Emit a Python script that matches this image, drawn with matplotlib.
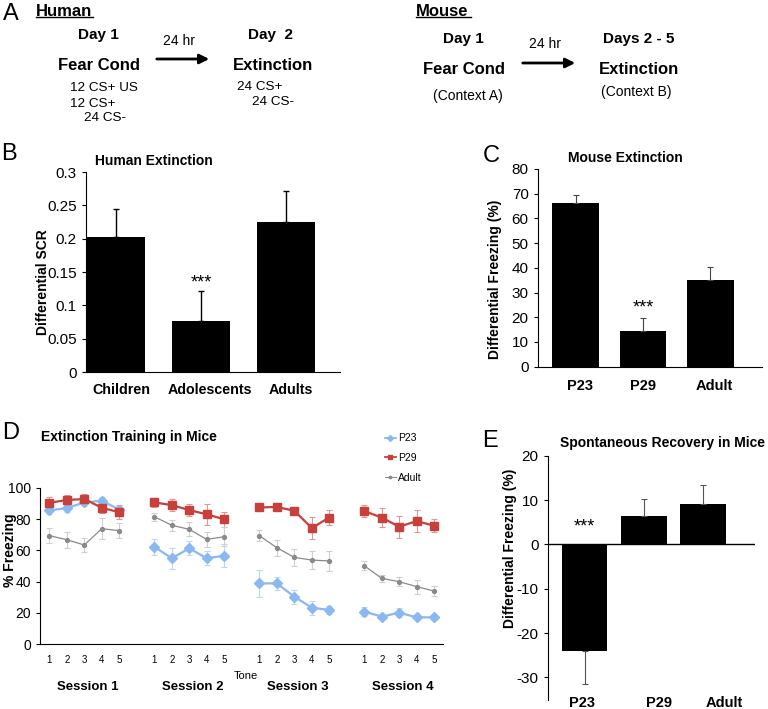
import matplotlib
matplotlib.use("Agg")
import matplotlib.pyplot as plt
import numpy as np
from matplotlib.ticker import FuncFormatter

plt.rcParams['font.family'] = ['Liberation Sans', 'DejaVu Sans']
plt.rcParams['axes.unicode_minus'] = False

# ---- data ----
human_groups = ["Children", "Adolescents", "Adults"]
human_scr = [0.202, 0.077, 0.225]
human_err = [0.043, 0.044, 0.046]

mouse_groups = ["P23", "P29", "Adult"]
mouse_ext = [66.4, 14.4, 35.0]
mouse_ext_err = [3.0, 5.2, 5.2]

tones = ["1", "2", "3", "4", "5"]
sessions = ["Session 1", "Session 2", "Session 3", "Session 4"]

p23_freeze = [85.5, 87.0, 90.6, 91.7, 86.0,
              62.3, 54.9, 61.3, 54.9, 56.6,
              38.9, 38.9, 30.4, 23.4, 21.9,
              20.9, 17.7, 20.2, 17.2, 17.2]
p23_err = [2.5, 2.5, 2.5, 2.5, 2.5,
           5.0, 6.5, 4.5, 4.5, 7.5,
           8.5, 4.0, 4.5, 4.5, 2.5,
           3.0, 1.5, 3.0, 1.5, 1.5]
p29_freeze = [90.4, 92.1, 92.8, 87.2, 84.3,
              90.6, 88.9, 85.7, 83.0, 79.8,
              87.4, 87.7, 85.3, 74.3, 80.9,
              85.1, 80.9, 75.1, 78.7, 75.7]
p29_err = [3.8, 3.0, 3.0, 3.5, 4.5,
           3.0, 4.0, 4.0, 6.5, 5.0,
           2.0, 2.0, 2.0, 7.0, 5.0,
           4.0, 6.0, 7.0, 7.0, 4.0]
adult_freeze = [69.4, 66.8, 63.4, 73.8, 72.6,
                81.5, 76.0, 73.4, 67.0, 68.7,
                69.4, 61.7, 55.5, 53.8, 53.2,
                50.2, 42.1, 40.0, 36.8, 34.0]
adult_err = [5.0, 5.0, 4.5, 6.7, 5.0,
             2.5, 3.5, 4.5, 5.0, 6.0,
             3.5, 5.0, 5.5, 5.5, 6.5,
             3.0, 2.0, 3.0, 4.5, 3.0]

recovery = [-24.0, 6.4, 9.1]
recovery_err = [7.6, 3.8, 4.2]

W, H = 768, 709
fig = plt.figure(figsize=(W / 100, H / 100), dpi=100)


def box(left, top, right, bottom):
    return [left / W, 1 - bottom / H, (right - left) / W, (bottom - top) / H]


def txt(x, y, s, **kw):
    kw.setdefault('ha', 'center')
    kw.setdefault('va', 'center')
    return fig.text(x / W, 1 - y / H, s, **kw)


def style_axes(ax):
    ax.spines['top'].set_visible(False)
    ax.spines['right'].set_visible(False)
    ax.tick_params(axis='y', direction='out', length=3, width=0.8, labelsize=11)
    ax.tick_params(axis='x', length=0)


# ---- panel A ----
txt(11, 14, "A", fontsize=17)
txt(36, 12, "Human", fontsize=12, weight='bold', ha='left')
fig.add_artist(plt.Line2D([36 / W, 93 / W], [1 - 17 / H, 1 - 17 / H], color='black', lw=1))
txt(98, 35, "Day 1", fontsize=11, weight='bold')
txt(99, 65.5, "Fear Cond", fontsize=12, weight='bold')
txt(70, 88, "12 CS+ US", fontsize=9.7, ha='left')
txt(70, 104, "12 CS+", fontsize=9.7, ha='left')
txt(84, 118, "24 CS-", fontsize=9.7, ha='left')
txt(179, 41, "24 hr", fontsize=10)
fig.add_artist(matplotlib.patches.FancyArrowPatch((154 / W, 1 - 59 / H), (212 / W, 1 - 59 / H),
                                                  transform=fig.transFigure, arrowstyle='-|>',
                                                  mutation_scale=14, lw=2, color='black'))
txt(271, 35, "Day  2", fontsize=11, weight='bold')
txt(273, 65.5, "Extinction", fontsize=12, weight='bold')
txt(237, 87, "24 CS+", fontsize=9.7, ha='left')
txt(252, 102, "24 CS-", fontsize=9.7, ha='left')

txt(416, 12, "Mouse", fontsize=12, weight='bold', ha='left')
fig.add_artist(plt.Line2D([416 / W, 471 / W], [1 - 17 / H, 1 - 17 / H], color='black', lw=1))
txt(463, 39, "Day 1", fontsize=11, weight='bold')
txt(464, 70, "Fear Cond", fontsize=12, weight='bold')
txt(468, 96, "(Context A)", fontsize=10)
txt(545, 44, "24 hr", fontsize=10)
fig.add_artist(matplotlib.patches.FancyArrowPatch((520 / W, 1 - 63 / H), (578 / W, 1 - 63 / H),
                                                  transform=fig.transFigure, arrowstyle='-|>',
                                                  mutation_scale=14, lw=2, color='black'))
txt(639, 39, "Days 2 - 5", fontsize=11, weight='bold')
txt(639, 70, "Extinction", fontsize=12, weight='bold')
txt(636, 92, "(Context B)", fontsize=10)

# ---- panel B ----
axB = fig.add_axes(box(86, 172, 340, 372))
style_axes(axB)
xb = np.arange(len(human_groups))
axB.bar(xb, human_scr, width=0.68, color='black')
axB.errorbar(xb, human_scr, yerr=[np.zeros(3), human_err], fmt='none',
             ecolor='black', elinewidth=1, capsize=2.5, capthick=1)
axB.set_xlim(-0.35, 2.63)
axB.set_ylim(0, 0.3)
axB.set_yticks([0, 0.05, 0.1, 0.15, 0.2, 0.25, 0.3])
axB.yaxis.set_major_formatter(FuncFormatter(lambda v, p: "%g" % v))
axB.set_xticks(xb + np.array([0.07, 0.1, 0.05]))
axB.set_xticklabels(human_groups, fontsize=10.3, weight='bold')
axB.tick_params(axis='x', pad=8)
axB.set_ylabel("Differential SCR", fontsize=10, weight='bold')
axB.yaxis.set_label_coords(-0.142, 0.45)
axB.text(1, human_scr[1] + human_err[1] + 0.012, "***", ha='center', va='center', fontsize=13)
txt(9, 154, "B", fontsize=17)
txt(154, 161, "Human Extinction", fontsize=10, weight='bold')

# ---- panel C ----
axC = fig.add_axes(box(537.7, 169, 761.7, 366.7))
style_axes(axC)
xc = np.arange(len(mouse_groups))
axC.bar(xc, mouse_ext, width=0.7, color='black')
axC.errorbar(xc, mouse_ext, yerr=[np.zeros(3), mouse_ext_err], fmt='none',
             ecolor='#444444', elinewidth=0.8, capsize=2.5, capthick=0.8)
axC.set_xlim(-0.57, 2.77)
axC.set_ylim(0, 80)
axC.set_yticks(range(0, 81, 10))
axC.set_xticks(xc + np.array([0.06, 0.0, 0.06]))
axC.set_xticklabels(mouse_groups, fontsize=10.5, weight='bold')
axC.tick_params(axis='x', pad=9)
axC.set_ylabel("Differential Freezing (%)", fontsize=10, weight='bold')
axC.yaxis.set_label_coords(-0.16, 0.44)
axC.text(1, mouse_ext[1] + mouse_ext_err[1] + 4, "***", ha='center', va='center', fontsize=13)
txt(491, 156, "C", fontsize=17)
txt(625, 158, "Mouse Extinction", fontsize=10, weight='bold')

# ---- panel D ----
axD = fig.add_axes(box(40, 487.7, 443, 644.3))
style_axes(axD)
xd = np.array([s * 6 + t for s in range(len(sessions)) for t in range(len(tones))], dtype=float)
series = [
    ("P23", p23_freeze, p23_err, '#8ab8f0', '#bcd5f5', 'D', 5, 1.6),
    ("P29", p29_freeze, p29_err, '#c8403c', '#e09896', 's', 6, 1.6),
    ("Adult", adult_freeze, adult_err, '#8a8a8a', '#cfcfcf', 'o', 2.8, 0.9),
]
handles = []
for name, vals, errs, col, ecol, mk, ms, lw in series:
    vals = np.array(vals)
    errs = np.array(errs)
    for s in range(len(sessions)):
        sl = slice(s * 5, s * 5 + 5)
        axD.errorbar(xd[sl], vals[sl], yerr=errs[sl], fmt='none', ecolor=ecol,
                     elinewidth=0.8, capsize=2, capthick=0.8, zorder=1)
        axD.plot(xd[sl], vals[sl], color=col, marker=mk, markersize=ms, lw=lw, zorder=2)
    handles.append(axD.plot([], [], color=col, marker=mk, markersize=ms * 0.6, lw=lw * 0.8)[0])
axD.set_xlim(-0.53, 22.5)
axD.set_ylim(0, 100)
axD.set_yticks(range(0, 101, 20))
axD.tick_params(axis='y', labelsize=10)
axD.set_xticks(xd)
axD.set_xticklabels(tones * len(sessions), fontsize=7)
axD.tick_params(axis='x', pad=8)
for s, name in enumerate(sessions):
    axD.text(s * 6 + 2.2, -0.27, name, transform=axD.get_xaxis_transform(),
             ha='center', va='center', fontsize=9.5, weight='bold')
axD.set_ylabel("% Freezing", fontsize=10, weight='bold')
axD.yaxis.set_label_coords(-0.058, 0.6)
txt(246, 676, "Tone", fontsize=8)
fig.legend(handles, [s[0] for s in series], loc='upper left',
           bbox_to_anchor=(381 / W, 1 - 429 / H), frameon=False, fontsize=7.5,
           handlelength=1.0, handletextpad=0.2, labelspacing=0.95, borderaxespad=0)
txt(11, 433, "D", fontsize=17)
txt(129, 437, "Extinction Training in Mice", fontsize=10, weight='bold')

# ---- panel E ----
axE = fig.add_axes(box(547.7, 455.7, 755, 700))
style_axes(axE)
axE.spines['bottom'].set_visible(False)
xe = np.arange(len(mouse_groups))
rec = np.array(recovery)
rec_err = np.array(recovery_err)
lower = np.where(rec < 0, rec_err, 0)
upper = np.where(rec > 0, rec_err, 0)
axE.bar(xe, rec, width=0.77, color='black')
axE.errorbar(xe, rec, yerr=[lower, upper], fmt='none',
             ecolor='#555555', elinewidth=0.8, capsize=2.5, capthick=0.8)
axE.axhline(0, color='black', lw=1)
axE.set_xlim(-0.62, 2.87)
axE.set_ylim(-35.1, 20)
axE.set_yticks([-30, -20, -10, 0, 10, 20])
axE.set_xticks(xe + np.array([-0.05, 0.26, 0.36]))
axE.set_xticklabels(mouse_groups, fontsize=10.5, weight='bold')
axE.tick_params(axis='x', pad=-3)
axE.set_ylabel("Differential Freezing (%)", fontsize=10, weight='bold')
axE.yaxis.set_label_coords(-0.15, 0.62)
axE.text(0, 4, "***", ha='center', va='center', fontsize=13)
txt(490, 441, "E", fontsize=17)
txt(662, 443, "Spontaneous Recovery in Mice", fontsize=10, weight='bold')

fig.savefig("out.png", dpi=100)
